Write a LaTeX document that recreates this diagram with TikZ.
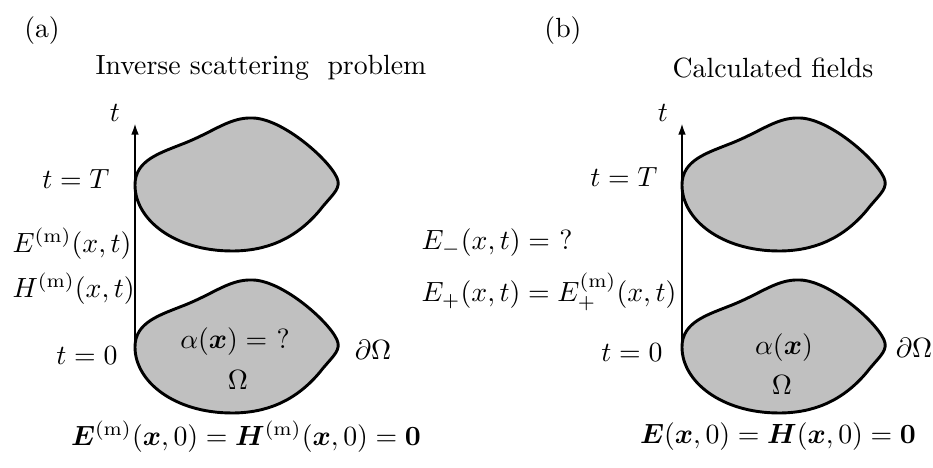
\documentclass[tikz,border=0pt]{standalone}
\usepackage{amsmath,bm}
\usetikzlibrary{arrows.meta}
\definecolor{blobgray}{RGB}{192,192,192}
\tikzset{
  blob/.style={draw=black, line width=1.05pt, fill=blobgray, line join=round},
  taxis/.style={line width=0.8pt, -{Latex[length=4.2pt,width=2.8pt]}},
  lbl/.style={inner sep=0pt},
  blobpic/.pic={\draw[blob] (0,0) .. controls (0,25) and (25,32) .. (50,42)
      .. controls (80,54) and (95,68) .. (118,67)
      .. controls (150,66) and (200,20) .. (203,4)
      .. controls (205,-5) and (195,-12) .. (185,-25)
      .. controls (160,-55) and (130,-66) .. (97,-66)
      .. controls (40,-66) and (0,-35) .. (0,0) -- cycle;}
}
\begin{document}
\begin{tikzpicture}[x=0.36pt,y=0.36pt]
\useasboundingbox (0,0) rectangle (933,468);
% panel (a)
\coordinate (aUp) at (135,283);
\coordinate (aLow) at (135,121);
\coordinate (aTip) at (135,345);
\pic at (aUp) {blobpic};
\pic at (aLow) {blobpic};
\draw[taxis] (aLow) -- (aTip);
\node[lbl] (alab) at (42,437) {(a)};
\node[lbl] (atitle) at (261,400) {Inverse scattering\ \ problem};
\node[lbl] (at) at (115,355) {$t$};
\node[lbl,anchor=east] (atT) at (110,289) {$t=T$};
\node[lbl,anchor=base west] (aE) at (12,215) {$E^{(\mathrm{m})}(x,t)$};
\node[lbl,anchor=base west] (aH) at (12,170) {$H^{(\mathrm{m})}(x,t)$};
\node[lbl,anchor=east] (at0) at (118,112) {$t=0$};
\node[lbl] (aalpha) at (235,126) {$\alpha(\bm{x})=\ ?$};
\node[lbl] (aOmega) at (238,88) {$\Omega$};
\node[lbl] (adOmega) at (373,118) {$\partial\Omega$};
\node[lbl] (aeq) at (246,31) {$\bm{E}^{(\mathrm{m})}(\bm{x},0)=\bm{H}^{(\mathrm{m})}(\bm{x},0)=\mathbf{0}$};
% panel (b)
\coordinate (bUp) at (682,283);
\coordinate (bLow) at (682,121);
\coordinate (bTip) at (682,345);
\pic at (bUp) {blobpic};
\pic at (bLow) {blobpic};
\draw[taxis] (bLow) -- (bTip);
\node[lbl] (blab) at (563,437) {(b)};
\node[lbl] (btitle) at (773,400) {Calculated fields};
\node[lbl] (bt) at (663,355) {$t$};
\node[lbl,anchor=east] (btT) at (658,291) {$t=T$};
\node[lbl,anchor=east] (bEp) at (677,176) {$E_{+}(x,t)=E^{(\mathrm{m})}_{+}(x,t)$};
\node[lbl,anchor=west] (bEm) at (bEp.west |- 0,225) {$E_{-}(x,t)=\ ?$};
\node[lbl,anchor=east] (bt0) at (663,115) {$t=0$};
\node[lbl] (balpha) at (784,120) {$\alpha(\bm{x})$};
\node[lbl] (bOmega) at (782,83) {$\Omega$};
\node[lbl] (bdOmega) at (914,120) {$\partial\Omega$};
\node[lbl] (beq) at (778,31) {$\bm{E}(\bm{x},0)=\bm{H}(\bm{x},0)=\mathbf{0}$};
\end{tikzpicture}
\end{document}
